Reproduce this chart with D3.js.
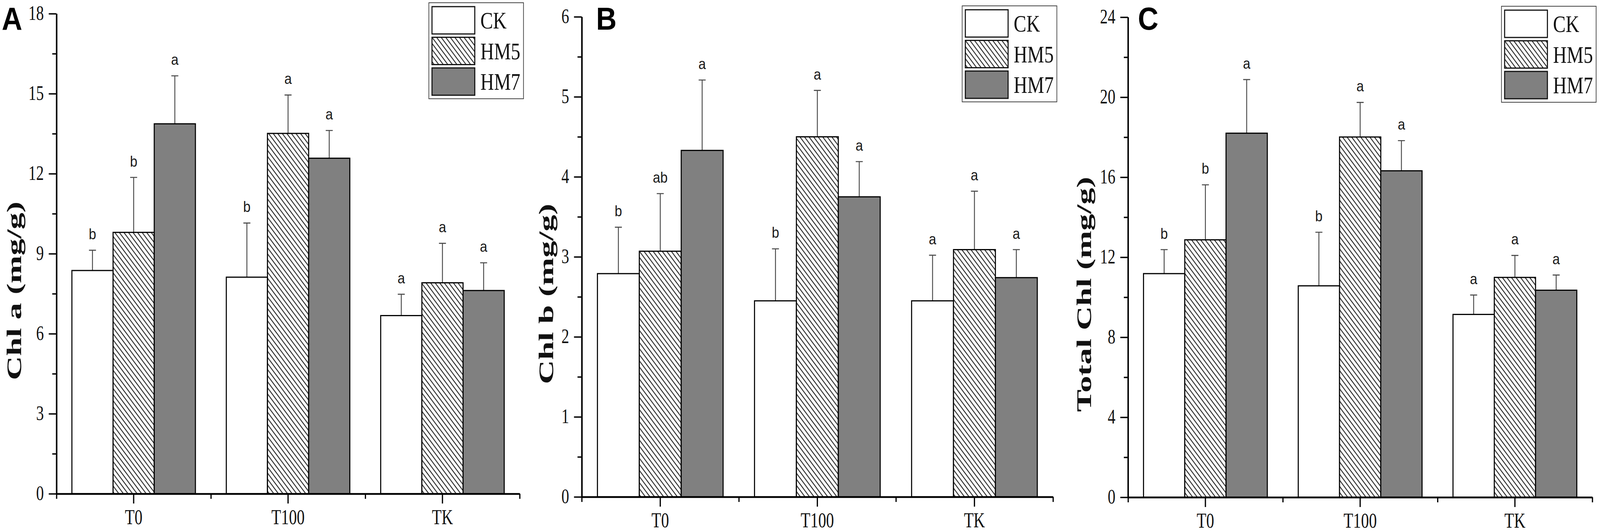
<!DOCTYPE html>
<html>
<head>
<meta charset="utf-8">
<style>
  html, body { margin: 0; padding: 0; background: #fff; overflow: hidden; }
  svg { display: block; width: 100vw; height: 100vh; }
</style>
</head>
<body>
<script src="https://d3js.org/d3.v7.min.js"></script>
<script>

    const width = 4563;
    const height = 1363;

    const categories = ["T0", "T100", "TK"];
    const series = ["CK", "HM5", "HM7"];

    // values per category, in series order CK, HM5, HM7
    const chlA = [[8.37, 9.80, 13.87], [8.12, 13.51, 12.58], [6.68, 7.91, 7.62]];
    const chlAErr = [[0.76, 2.06, 1.80], [2.03, 1.44, 1.04], [0.80, 1.48, 1.04]];
    const chlALetters = [["b", "b", "a"], ["b", "a", "a"], ["a", "a", "a"]];

    const chlB = [[2.79, 3.07, 4.33], [2.45, 4.50, 3.75], [2.45, 3.09, 2.74]];
    const chlBErr = [[0.58, 0.72, 0.88], [0.65, 0.58, 0.44], [0.57, 0.73, 0.35]];
    const chlBLetters = [["b", "ab", "a"], ["b", "a", "a"], ["a", "a", "a"]];

    const totalChl = [[11.18, 12.87, 18.20], [10.57, 18.01, 16.32], [9.14, 10.99, 10.35]];
    const totalChlErr = [[1.20, 2.75, 2.68], [2.68, 1.73, 1.51], [0.97, 1.10, 0.76]];
    const totalChlLetters = [["b", "b", "a"], ["b", "a", "a"], ["a", "a", "a"]];

    const chlATicks = [0, 3, 6, 9, 12, 15, 18];
    const chlBTicks = [0, 1, 2, 3, 4, 5, 6];
    const totalChlTicks = [0, 4, 8, 12, 16, 20, 24];

    const panelLabels = ["A", "B", "C"];
    const yTitles = ["Chl a (mg/g)", "Chl b (mg/g)", "Total Chl (mg/g)"];

    // where each panel sits in the picture
    const layout = [
        { left: 161, right: 1482, top: 35, bottom: 1265, titleDx: -101, labelX: 5 },
        { left: 1659, right: 3003, top: 43, bottom: 1273, titleDx: -82, labelX: 1700 },
        { left: 3217, right: 4541, top: 44, bottom: 1274, titleDx: -106, labelX: 3245 }
    ];

    const panels = [
        { values: chlA, errors: chlAErr, letters: chlALetters, ticks: chlATicks },
        { values: chlB, errors: chlBErr, letters: chlBLetters, ticks: chlBTicks },
        { values: totalChl, errors: totalChlErr, letters: totalChlLetters, ticks: totalChlTicks }
    ];

    const serif = "'Liberation Serif', 'Times New Roman', serif";
    const sans = "'Liberation Sans', Arial, sans-serif";

    var svg = d3.select("body")
        .append("svg")
        .attr("viewBox", "0 0 " + width + " " + height)
        .attr("preserveAspectRatio", "none")
        .style("background", "#fff");

    // diagonal hatch for HM5
    var defs = svg.append("defs");
    var hatch = defs.append("pattern")
        .attr("id", "hatch")
        .attr("patternUnits", "userSpaceOnUse")
        .attr("width", 13)
        .attr("height", 15.6);
    hatch.append("rect").attr("width", 13).attr("height", 15.6).attr("fill", "#fff");
    hatch.append("path")
        .attr("d", "M-13,-15.6L26,31.2M-13,0L13,31.2M0,-15.6L26,15.6")
        .attr("stroke", "#222")
        .attr("stroke-width", 2.4);

    var fills = { CK: "#ffffff", HM5: "url(#hatch)", HM7: "#808080" };

    panels.forEach(function (p, pi) {
        var L = layout[pi];
        var g = svg.append("g");
        var maxY = p.ticks[p.ticks.length - 1];
        var step = p.ticks[1] - p.ticks[0];

        var y = d3.scaleLinear().domain([0, maxY]).range([L.bottom, L.top]);
        var x0 = d3.scaleBand().domain(categories).range([L.left, L.right]).padding(0);
        var x1 = d3.scaleBand().domain(series)
            .range([x0.bandwidth() * 0.1, x0.bandwidth() * 0.9]).padding(0);
        var xb = d3.scaleLinear().domain([0, categories.length]).range([L.left, L.right]);

        var rows = [];
        categories.forEach(function (c, ci) {
            series.forEach(function (s, si) {
                rows.push({ cat: c, ser: s, v: p.values[ci][si], e: p.errors[ci][si], lab: p.letters[ci][si] });
            });
        });

        var barX = function (d) { return x0(d.cat) + x1(d.ser); };
        var barMid = function (d) { return barX(d) + x1.bandwidth() / 2; };

        // error bars (upper only)
        g.selectAll(".err")
            .data(rows)
            .enter()
            .append("path")
            .attr("d", function (d) {
                var cx = barMid(d), top = y(d.v + d.e);
                return "M" + cx + "," + y(d.v) + "V" + top + "M" + (cx - 10) + "," + top + "H" + (cx + 10);
            })
            .attr("stroke", "#4a4a4a")
            .attr("stroke-width", 2.6)
            .attr("fill", "none");

        g.selectAll(".bar")
            .data(rows)
            .enter()
            .append("rect")
            .attr("x", barX)
            .attr("y", function (d) { return y(d.v); })
            .attr("width", x1.bandwidth())
            .attr("height", function (d) { return y(0) - y(d.v); })
            .attr("fill", function (d) { return fills[d.ser]; })
            .attr("stroke", "#000")
            .attr("stroke-width", 3);

        g.selectAll(".sig")
            .data(rows)
            .enter()
            .append("text")
            .attr("x", barMid)
            .attr("y", function (d) { return y(d.v + d.e) - 28; })
            .attr("text-anchor", "middle")
            .style("font-family", sans)
            .style("font-size", "38px")
            .attr("fill", "#1a1a1a")
            .text(function (d) { return d.lab; });

        // y axis
        var yAxis = g.append("g")
            .attr("transform", "translate(" + L.left + ",0)")
            .call(d3.axisLeft(y).tickValues(p.ticks).tickFormat(d3.format("d"))
                .tickSize(22).tickSizeOuter(0).tickPadding(14));
        g.append("g")
            .attr("transform", "translate(" + L.left + ",0)")
            .call(d3.axisLeft(y).tickValues(d3.range(step / 2, maxY, step)).tickSize(12).tickSizeOuter(0).tickFormat(""));

        // x axis
        var xAxis = g.append("g")
            .attr("transform", "translate(0," + L.bottom + ")")
            .call(d3.axisBottom(x0).tickSize(25).tickSizeOuter(0));
        g.append("g")
            .attr("transform", "translate(0," + L.bottom + ")")
            .call(d3.axisBottom(xb).tickValues(d3.range(0, categories.length + 1)).tickSize(13).tickSizeOuter(0).tickFormat(""));

        g.selectAll(".domain").attr("stroke", "#000").attr("stroke-width", 4);
        g.selectAll(".tick line").attr("stroke", "#000").attr("stroke-width", 3.5);

        yAxis.selectAll("text")
            .style("font-family", serif)
            .style("font-size", "44px")
            .attr("fill", "#111")
            .attr("dy", "0.3em")
            .attr("transform", "scale(1,1.18)");

        xAxis.selectAll("text")
            .style("font-family", serif)
            .style("font-size", "45px")
            .attr("fill", "#111")
            .attr("y", 65)
            .attr("dy", 0)
            .attr("transform", "scale(1,1.2)");

        // y title
        g.append("text")
            .attr("transform", "translate(" + (L.left + L.titleDx) + "," + ((L.top + L.bottom) / 2 + 95) + ") rotate(-90) scale(1.48,1)")
            .attr("text-anchor", "middle")
            .style("font-family", serif)
            .style("font-size", "58px")
            .style("font-weight", "bold")
            .attr("fill", "#111")
            .text(yTitles[pi]);

        // panel letter
        g.append("text")
            .attr("x", L.labelX)
            .attr("y", 76)
            .style("font-family", sans)
            .style("font-size", "81px")
            .style("font-weight", "bold")
            .attr("fill", "#000")
            .text(panelLabels[pi]);

        // legend
        var lx = L.right + 11 - 270;
        var ly = L.top - 28;
        var leg = g.append("g").attr("transform", "translate(" + lx + "," + ly + ")");
        leg.append("rect")
            .attr("width", 270)
            .attr("height", 246)
            .attr("fill", "#fff")
            .attr("stroke", "#444")
            .attr("stroke-width", 2);
        var item = leg.selectAll(".item")
            .data(series)
            .enter()
            .append("g")
            .attr("transform", function (d, i) { return "translate(9," + (10 + i * 78.5) + ")"; });
        item.append("rect")
            .attr("width", 122)
            .attr("height", 70)
            .attr("fill", function (d) { return fills[d]; })
            .attr("stroke", "#111")
            .attr("stroke-width", 3);
        item.append("text")
            .attr("x", 138)
            .attr("y", 0)
            .attr("transform", "translate(0,56) scale(1,1.15)")
            .style("font-family", serif)
            .style("font-size", "54px")
            .attr("fill", "#111")
            .text(function (d) { return d; });
    });
</script>
</body>
</html>
